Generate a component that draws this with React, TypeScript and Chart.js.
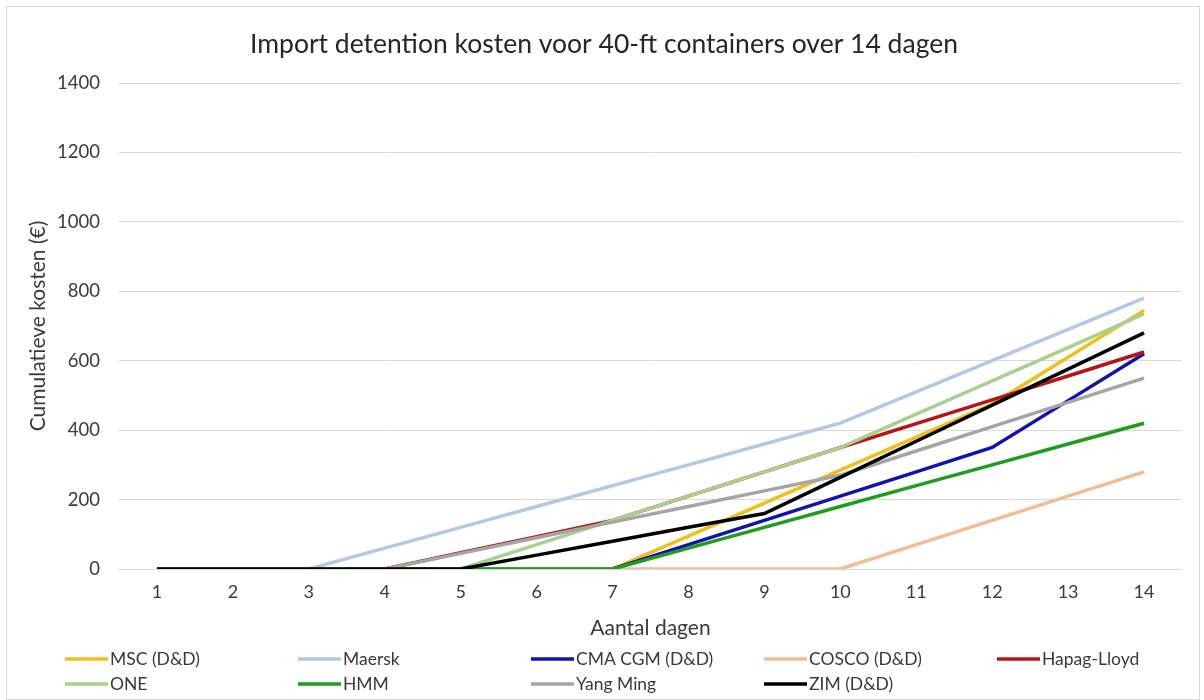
import React, { useEffect, useRef } from "react";
import { Chart, registerables } from "chart.js";

Chart.register(...registerables);

const days = ["1", "2", "3", "4", "5", "6", "7", "8", "9", "10", "11", "12", "13", "14"];

const seriesNames = [
  "MSC (D&D)",
  "Maersk",
  "CMA CGM (D&D)",
  "COSCO (D&D)",
  "Hapag-Lloyd",
  "ONE",
  "HMM",
  "Yang Ming",
  "ZIM (D&D)",
];

const seriesColors = [
  "#F2BE1A",
  "#B4C7E7",
  "#1212B0",
  "#F2BC94",
  "#B81414",
  "#A9D18E",
  "#1E9E1E",
  "#A5A5A5",
  "#000000",
];

const msc = [0, 0, 0, 0, 0, 0, 0, 95, 190, 285, 380, 475, 610, 745];
const maersk = [0, 0, 0, 60, 120, 180, 240, 300, 360, 420, 510, 600, 690, 780];
const cmaCgm = [0, 0, 0, 0, 0, 0, 0, 70, 140, 210, 280, 350, 485, 620];
const cosco = [0, 0, 0, 0, 0, 0, 0, 0, 0, 0, 70, 140, 210, 280];
const hapagLloyd = [0, 0, 0, 0, 47, 93, 140, 210, 280, 350, 419, 487, 556, 625];
const one = [0, 0, 0, 0, 0, 70, 140, 210, 280, 350, 446, 542, 638, 735];
const hmm = [0, 0, 0, 0, 0, 0, 0, 60, 120, 180, 240, 300, 360, 420];
const yangMing = [0, 0, 0, 0, 45, 90, 135, 180, 225, 270, 340, 410, 480, 550];
const zim = [0, 0, 0, 0, 0, 40, 80, 120, 160, 264, 368, 472, 576, 680];

const seriesValues = [msc, maersk, cmaCgm, cosco, hapagLloyd, one, hmm, yangMing, zim];

const yMin = 0;
const yMax = 1400;
const yStep = 200;

const titleText = "Import detention kosten voor 40-ft containers over 14 dagen";
const xTitle = "Aantal dagen";
const yTitle = "Cumulatieve kosten (€)";

const FONT = "Lato, 'Noto Sans', sans-serif";
const TEXT_COLOR = "#3A3A3A";

const frame = {
  id: "frame",
  beforeDraw(chart: any) {
    const { ctx, width, height } = chart;
    ctx.save();
    ctx.fillStyle = "#ffffff";
    ctx.fillRect(0, 0, width, height);
    ctx.strokeStyle = "#D9D9D9";
    ctx.lineWidth = 1;
    ctx.strokeRect(6.5, 6.5, width - 11, height - 7);
    ctx.restore();
  },
};

const gridLegend = {
  id: "gridLegend",
  afterDraw(chart: any) {
    const { ctx } = chart;
    const cols = 5;
    const x0 = 65;
    const colW = 233;
    const rows = [659, 684];
    const lineLen = 43;
    ctx.save();
    ctx.font = `17.5px ${FONT}`;
    ctx.textBaseline = "middle";
    ctx.textAlign = "left";
    chart.data.datasets.forEach((ds: any, i: number) => {
      const c = i % cols;
      const r = Math.floor(i / cols);
      const x = x0 + c * colW;
      const y = rows[r];
      ctx.strokeStyle = ds.borderColor;
      ctx.lineWidth = 3.5;
      ctx.beginPath();
      ctx.moveTo(x, y);
      ctx.lineTo(x + lineLen, y);
      ctx.stroke();
      ctx.fillStyle = TEXT_COLOR;
      ctx.fillText(ds.label, x + lineLen + 2, y);
    });
    ctx.restore();
  },
};

export default function App() {
  const canvasRef = useRef<HTMLCanvasElement | null>(null);

  useEffect(() => {
    document.body.style.margin = "0";
    const canvas = canvasRef.current;
    if (!canvas) return;
    const chart = new Chart(canvas, {
      type: "line",
      data: {
        labels: days,
        datasets: seriesNames.map((name, i) => ({
          label: name,
          data: seriesValues[i],
          borderColor: seriesColors[i],
          backgroundColor: seriesColors[i],
          borderWidth: 3.5,
          pointRadius: 0,
          pointHoverRadius: 0,
          tension: 0,
          fill: false,
          order: seriesNames.length - i,
        })),
      },
      options: {
        responsive: false,
        animation: false,
        layout: { padding: { left: 26, right: 22, top: 0, bottom: 0 } },
        plugins: {
          legend: { display: false },
          tooltip: { enabled: false },
          title: {
            display: true,
            text: titleText,
            color: "#262626",
            font: { family: FONT, size: 26.5, weight: "normal" },
            padding: { top: 29, bottom: 22.2 },
          },
        },
        scales: {
          x: {
            offset: true,
            grid: { display: false, drawTicks: false },
            border: { display: false },
            ticks: {
              color: TEXT_COLOR,
              font: { family: FONT, size: 18 },
              padding: 12,
              maxRotation: 0,
              autoSkip: false,
            },
            title: {
              display: true,
              text: xTitle,
              color: TEXT_COLOR,
              font: { family: FONT, size: 21 },
              padding: { top: 0, bottom: 59.4 },
            },
            afterFit(scale: any) {
              scale.height = 131;
            },
          },
          y: {
            min: yMin,
            max: yMax,
            grid: { color: "#D9D9D9", lineWidth: 1, drawTicks: false },
            border: { display: false },
            ticks: {
              stepSize: yStep,
              color: TEXT_COLOR,
              font: { family: FONT, size: 18.5 },
              padding: 19,
              callback: (v: any) => String(v),
            },
            title: {
              display: true,
              text: yTitle,
              color: TEXT_COLOR,
              font: { family: FONT, size: 21 },
              padding: { top: 0, bottom: 0 },
            },
            afterFit(scale: any) {
              scale.width = 93;
            },
          },
        },
      },
      plugins: [frame, gridLegend],
    });
    return () => chart.destroy();
  }, []);

  return (
    <div style={{ width: 1204, height: 700, position: "relative" }}>
      <canvas ref={canvasRef} width={1204} height={700} style={{ display: "block" }} />
    </div>
  );
}
